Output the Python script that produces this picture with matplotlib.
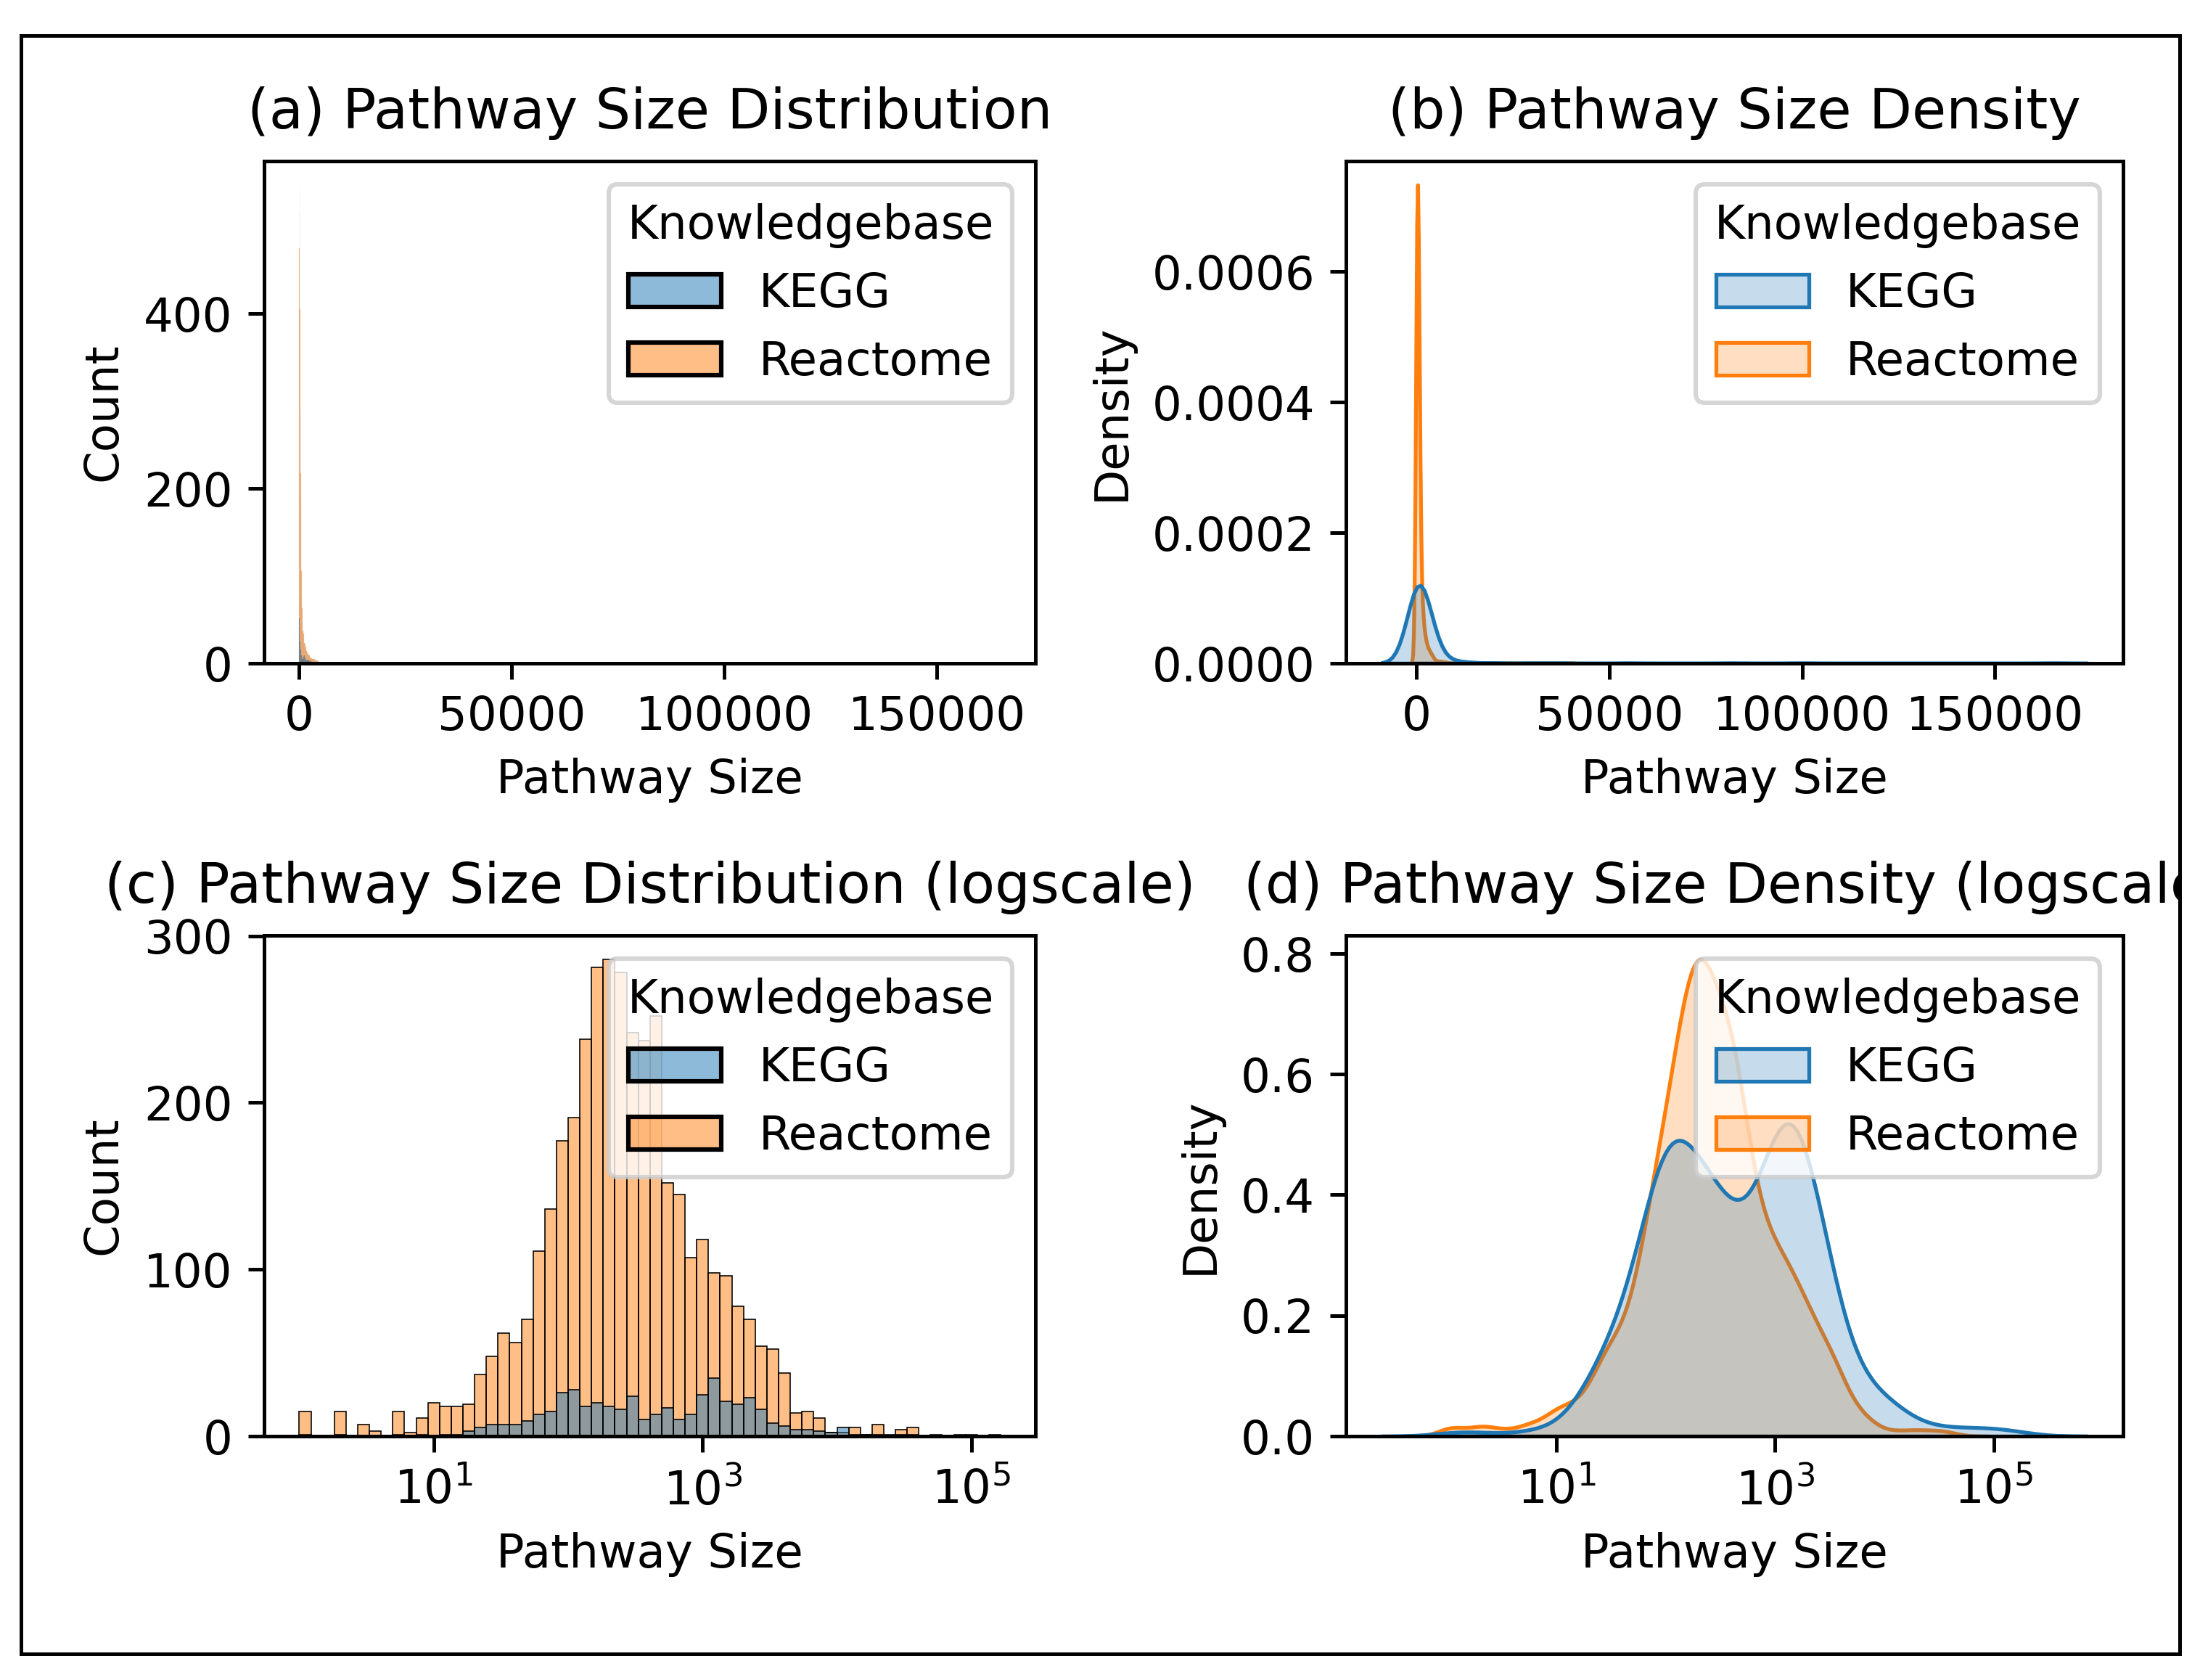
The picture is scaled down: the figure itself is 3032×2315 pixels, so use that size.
import numpy as np
import pandas as pd
import matplotlib
matplotlib.use("Agg")
import matplotlib.pyplot as plt
import seaborn as sns
from matplotlib.patches import Rectangle
from matplotlib.transforms import Bbox, TransformedBbox
from matplotlib.ticker import NullLocator

plt.rcParams["font.size"] = 10.35
plt.rcParams["axes.titlesize"] = 12.4
plt.rcParams["axes.titlepad"] = 7.3

# counts per log10 bin: 60 bins from 10^0 up to the largest pathway
N_BINS = 60
LARGEST = 165000
LOG_RANGE = (0.0, np.log10(LARGEST))
kb_names = ["KEGG", "Reactome"]

kegg_counts = [
    1, 0, 0, 1, 0, 0, 0, 0, 1, 0,
    1, 0, 1, 1, 3, 5, 7, 7, 7, 9,
    13, 15, 26, 28, 18, 20, 18, 16, 24, 10,
    13, 17, 10, 13, 25, 35, 21, 19, 23, 16,
    8, 6, 4, 4, 3, 2, 5, 1, 1, 1,
    0, 1, 1, 0, 1, 0, 1, 1, 0, 0,
]
reactome_counts = [
    15, 0, 0, 15, 0, 7, 3, 0, 15, 2,
    11, 20, 18, 18, 19, 37, 48, 62, 56, 70,
    111, 136, 177, 191, 238, 281, 286, 278, 242, 237,
    252, 152, 145, 107, 118, 98, 96, 78, 70, 54,
    52, 38, 14, 15, 11, 2, 2, 5, 1, 7,
    1, 4, 5, 0, 0, 0, 0, 0, 0, 0,
]
# largest pathway (KEGG), sets the right end of the linear axes
kegg_largest = [LARGEST]
# bin width of the linear histogram in (a)
LINEAR_BINWIDTH = 60

log_edges = np.linspace(LOG_RANGE[0], LOG_RANGE[1], N_BINS + 1)


def expand(counts):
    # spread the members of each bin evenly inside it (log space)
    vals = []
    for k, c in enumerate(counts):
        lo, hi = log_edges[k], log_edges[k + 1]
        for i in range(c):
            vals.append(10 ** (lo + (hi - lo) * (i + 0.5) / c))
    return vals


kegg_sizes = expand(kegg_counts) + kegg_largest
reactome_sizes = expand(reactome_counts)
df = pd.DataFrame({
    "Pathway Size": kegg_sizes + reactome_sizes,
    "Knowledgebase": ["KEGG"] * len(kegg_sizes) + ["Reactome"] * len(reactome_sizes),
})

W, H = 3032, 2315
fig = plt.figure(figsize=(6.8, 5.191), dpi=446)


def box(x0, y0, x1, y1):
    return [x0 / W, 1 - y1 / H, (x1 - x0) / W, (y1 - y0) / H]


ax_a = fig.add_axes(box(364, 222, 1427, 914))
ax_b = fig.add_axes(box(1855, 222, 2925, 914))
ax_c = fig.add_axes(box(364, 1289, 1427, 1979))
ax_d = fig.add_axes(box(1855, 1289, 2925, 1979))

sns.histplot(data=df, x="Pathway Size", hue="Knowledgebase", hue_order=kb_names,
             binwidth=LINEAR_BINWIDTH, ax=ax_a)
ax_a.set_title("(a) Pathway Size Distribution")
ax_a.set_xticks([0, 50000, 100000, 150000])
ax_a.set_yticks([0, 200, 400])

sns.kdeplot(data=df, x="Pathway Size", hue="Knowledgebase", hue_order=kb_names,
            fill=True, common_norm=False, linewidth=0.85, ax=ax_b)
ax_b.set_title("(b) Pathway Size Density")
ax_b.set_xticks([0, 50000, 100000, 150000])
ax_b.set_yticks([0, 0.0002, 0.0004, 0.0006])

sns.histplot(data=df, x="Pathway Size", hue="Knowledgebase", hue_order=kb_names,
             log_scale=True, bins=N_BINS, binrange=LOG_RANGE, ax=ax_c)
ax_c.set_title("(c) Pathway Size Distribution (logscale)")
ax_c.set_xticks([10, 1e3, 1e5])
ax_c.xaxis.set_minor_locator(NullLocator())
ax_c.set_yticks([0, 100, 200, 300])

sns.kdeplot(data=df, x="Pathway Size", hue="Knowledgebase", hue_order=kb_names,
            log_scale=True, fill=True, common_norm=False, linewidth=0.85, ax=ax_d)
t = ax_d.set_title("(d) Pathway Size Density (logscale)")
ax_d.set_xticks([10, 1e3, 1e5])
ax_d.xaxis.set_minor_locator(NullLocator())
ax_d.set_yticks([0, 0.2, 0.4, 0.6, 0.8])

for ax in (ax_a, ax_b, ax_c, ax_d):
    sns.move_legend(ax, "upper right")

# the title of (d) runs past the outer frame and is cut there
t.set_clip_box(TransformedBbox(Bbox([[0, 0], [3003 / W, 1]]), fig.transFigure))
t.set_clip_on(True)

fig.patches.append(Rectangle((29 / W, 1 - 2279 / H), (3003 - 29) / W, (2279 - 49) / H,
                             transform=fig.transFigure, fill=False,
                             edgecolor="black", linewidth=0.8))

fig.savefig("out.png", dpi=446)
